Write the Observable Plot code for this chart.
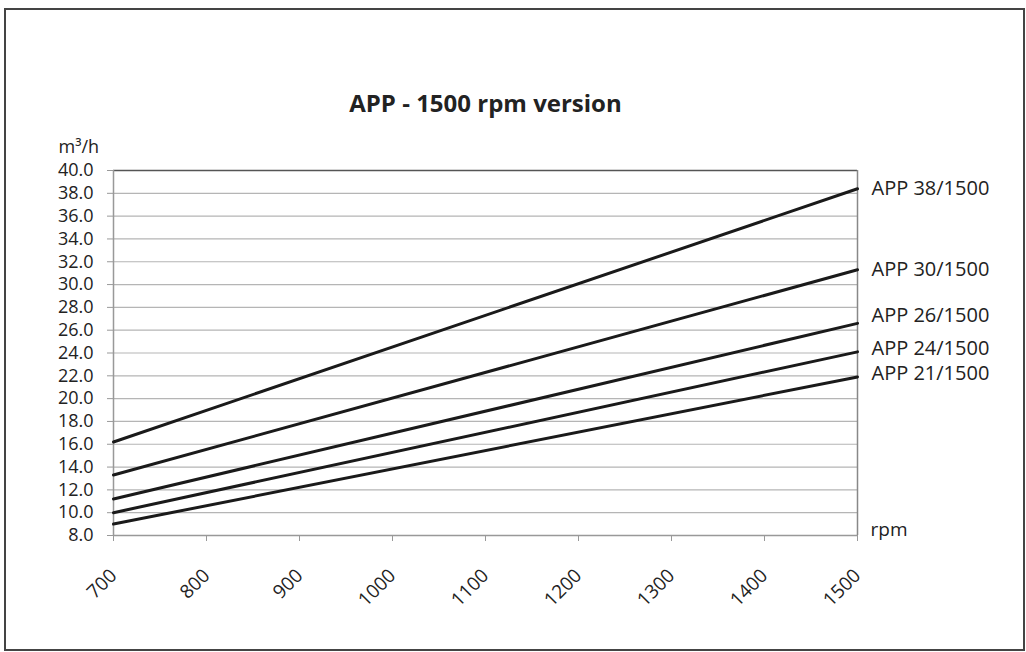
<!DOCTYPE html>
<html>
<head>
<meta charset="utf-8">
<script src="https://cdn.jsdelivr.net/npm/d3@7"></script>
<script src="https://cdn.jsdelivr.net/npm/@observablehq/plot@0.6"></script>
<style>
  html, body { margin: 0; padding: 0; background: #fff; }
  #wrap { position: relative; width: 1026px; height: 652px; overflow: hidden; }
  #frame { position: absolute; left: 4px; top: 8px; width: 1017px; height: 639px; border: 2px solid #444; box-sizing: content-box; pointer-events: none; }
  #chart { position: absolute; left: 0; top: 0; }
</style>
</head>
<body>
<div id="wrap"><div id="chart"></div><div id="frame"></div></div>
<script>
const title = "APP - 1500 rpm version";
const yLabel = "m³/h";
const xLabel = "rpm";
const rpm = [700, 1500];
const seriesNames = ["APP 38/1500", "APP 30/1500", "APP 26/1500", "APP 24/1500", "APP 21/1500"];
const flow38 = [16.2, 38.4];
const flow30 = [13.3, 31.3];
const flow26 = [11.2, 26.6];
const flow24 = [10.0, 24.1];
const flow21 = [9.0, 21.9];
const xTicks = [700, 800, 900, 1000, 1100, 1200, 1300, 1400, 1500];
const yTicks = [8, 10, 12, 14, 16, 18, 20, 22, 24, 26, 28, 30, 32, 34, 36, 38, 40];

const seriesValues = [flow38, flow30, flow26, flow24, flow21];
const data = [];
seriesNames.forEach((name, i) => {
  rpm.forEach((r, j) => data.push({name, rpm: r, flow: seriesValues[i][j]}));
});
const ends = data.filter(d => d.rpm === 1500);
// small vertical nudges (data units) to keep end labels apart, as in the reference
const nudge = {"APP 26/1500": 0.65, "APP 24/1500": 0.3, "APP 21/1500": 0.3};

const font = "'Open Sans', 'Noto Sans', sans-serif";

const chart = Plot.plot({
  width: 1026,
  height: 652,
  marginLeft: 113,
  marginRight: 169,
  marginTop: 170,
  marginBottom: 117,
  style: {fontFamily: font, background: "transparent", color: "#222"},
  x: {domain: [700, 1500]},
  y: {domain: [8, 40]},
  marks: [
    Plot.gridY(yTicks, {stroke: "#b5b5b5", strokeOpacity: 1, strokeWidth: 1.2}),
    Plot.ruleY([40], {stroke: "#555", strokeWidth: 1.5}),
    Plot.ruleY([8], {stroke: "#999", strokeWidth: 1.5}),
    Plot.ruleX([700], {stroke: "#999", strokeWidth: 1.5}),
    Plot.ruleX([1500], {stroke: "#888", strokeWidth: 1.5}),
    Plot.axisY({ticks: yTicks, tickFormat: d => d.toFixed(1), tickSize: 6, tickPadding: 14, fontSize: 18, stroke: "#999", label: null}),
    Plot.axisX({ticks: xTicks, tickFormat: d => String(d), tickSize: 6, tickPadding: 31, tickRotate: -45, fontSize: 19, stroke: "#999", label: null}),
    Plot.line(data, {x: "rpm", y: "flow", z: "name", stroke: "#1a1a1a", strokeWidth: 3}),
    Plot.text(ends, {x: "rpm", y: d => d.flow + (nudge[d.name] || 0), text: "name", dx: 14, textAnchor: "start", fontSize: 20, fill: "#222"}),
    Plot.text([title], {frameAnchor: "top", dy: -76, fontSize: 24, fontWeight: "bold", fill: "#222"}),
    Plot.text([yLabel], {frameAnchor: "top-left", dx: -55, dy: -30, textAnchor: "start", fontSize: 18, fill: "#222"}),
    Plot.text([xLabel], {frameAnchor: "bottom-right", dx: 13, dy: 0, textAnchor: "start", fontSize: 19, fill: "#222"})
  ]
});
document.getElementById("chart").appendChild(chart);
</script>
</body>
</html>
